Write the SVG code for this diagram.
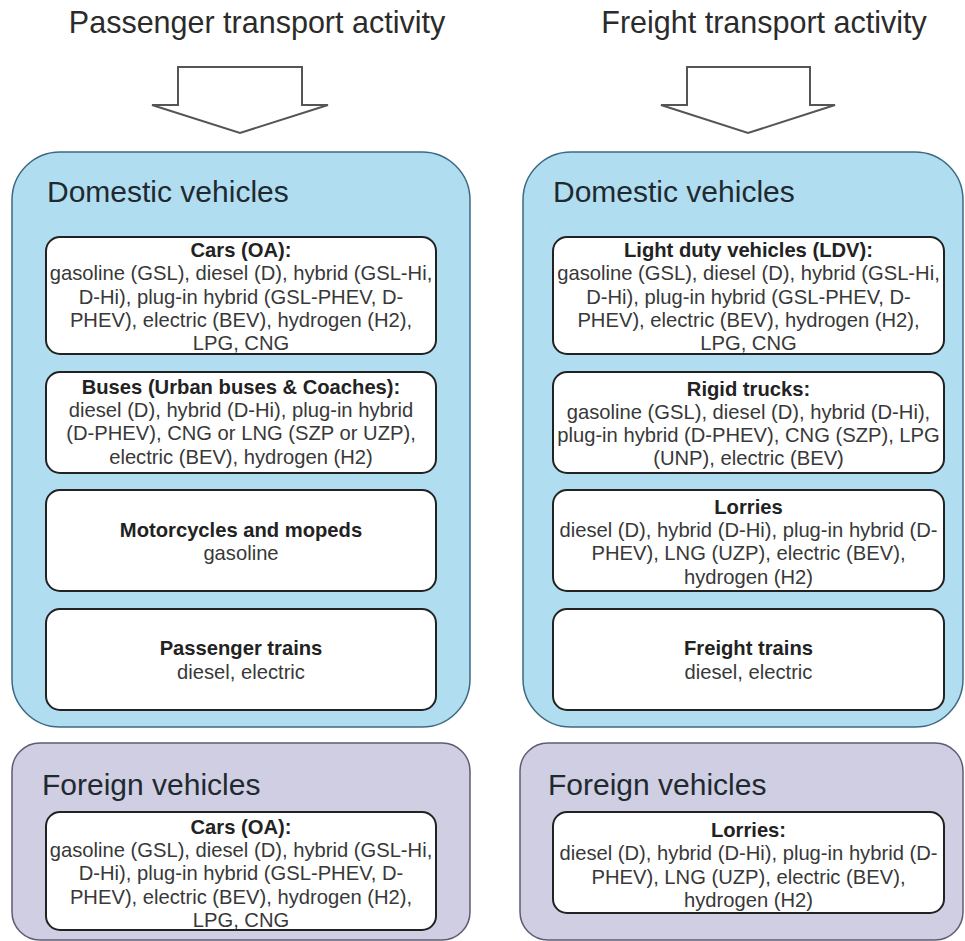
<svg xmlns="http://www.w3.org/2000/svg" width="965" height="941" viewBox="0 0 965 941">
<style>
.title{font-family:"Liberation Sans",Arial,sans-serif;font-size:30.5px;fill:#2b2b2b;text-anchor:middle}
.head{font-family:"Liberation Sans",Arial,sans-serif;font-size:30px;fill:#1f2a30}
.dom{fill:#b1ddf0;stroke:#3d6a82;stroke-width:1.5}
.for{fill:#d0cee2;stroke:#5e5b73;stroke-width:1.5}
.box{fill:#ffffff;stroke:#222;stroke-width:2}
.t{font-family:"Liberation Sans",Arial,sans-serif;font-size:20.2px;fill:#383838;text-anchor:middle}
.b{font-weight:bold;fill:#222}
.arrow{fill:#ffffff;stroke:#555;stroke-width:2;stroke-linejoin:miter}
</style>
<rect width="965" height="941" fill="#ffffff"/>
<text class="title" x="257" y="33">Passenger transport activity</text>
<text class="title" x="764" y="33">Freight transport activity</text>
<g id="connectors">
<path class="arrow" d="M178,67 H302 V105 H328 L240,133 L152,105 H178 Z"/>
<path class="arrow" d="M687,67 H810 V105 H835 L748,133 L661,105 H687 Z"/>
</g>
<g id="passenger-domestic">
<rect class="dom" x="12" y="152" width="458" height="575" rx="48"/>
<text class="head" x="47" y="202">Domestic vehicles</text>
</g>
<g id="cars">
<rect class="box" x="46" y="237" width="390" height="117" rx="14"/>
<text class="t"><tspan class="b" x="241" y="257">Cars (OA):</tspan><tspan x="241" y="280">gasoline (GSL), diesel (D), hybrid (GSL-Hi,</tspan><tspan x="241" y="304">D-Hi), plug-in hybrid (GSL-PHEV, D-</tspan><tspan x="241" y="327">PHEV), electric (BEV), hydrogen (H2),</tspan><tspan x="241" y="350">LPG, CNG</tspan></text>
</g>
<g id="buses">
<rect class="box" x="46" y="372" width="390" height="101" rx="14"/>
<text class="t"><tspan class="b" x="241" y="394">Buses (Urban buses &amp; Coaches):</tspan><tspan x="241" y="417">diesel (D), hybrid (D-Hi), plug-in hybrid</tspan><tspan x="241" y="440">(D-PHEV), CNG or LNG (SZP or UZP),</tspan><tspan x="241" y="464">electric (BEV), hydrogen (H2)</tspan></text>
</g>
<g id="motorcycles">
<rect class="box" x="46" y="490" width="390" height="101" rx="14"/>
<text class="t"><tspan class="b" x="241" y="537">Motorcycles and mopeds</tspan><tspan x="241" y="560">gasoline</tspan></text>
</g>
<g id="passenger-trains">
<rect class="box" x="46" y="609" width="390" height="101" rx="14"/>
<text class="t"><tspan class="b" x="241" y="655">Passenger trains</tspan><tspan x="241" y="679">diesel, electric</tspan></text>
</g>
<g id="freight-domestic">
<rect class="dom" x="523" y="152" width="440" height="575" rx="48"/>
<text class="head" x="553" y="202">Domestic vehicles</text>
</g>
<g id="ldv">
<rect class="box" x="553" y="237" width="391" height="117" rx="14"/>
<text class="t"><tspan class="b" x="748.5" y="257">Light duty vehicles (LDV):</tspan><tspan x="748.5" y="280">gasoline (GSL), diesel (D), hybrid (GSL-Hi,</tspan><tspan x="748.5" y="304">D-Hi), plug-in hybrid (GSL-PHEV, D-</tspan><tspan x="748.5" y="327">PHEV), electric (BEV), hydrogen (H2),</tspan><tspan x="748.5" y="350">LPG, CNG</tspan></text>
</g>
<g id="rigid-trucks">
<rect class="box" x="553" y="372" width="391" height="101" rx="14"/>
<text class="t"><tspan class="b" x="748.5" y="396">Rigid trucks:</tspan><tspan x="748.5" y="419">gasoline (GSL), diesel (D), hybrid (D-Hi),</tspan><tspan x="748.5" y="442">plug-in hybrid (D-PHEV), CNG (SZP), LPG</tspan><tspan x="748.5" y="465">(UNP), electric (BEV)</tspan></text>
</g>
<g id="lorries">
<rect class="box" x="553" y="490" width="391" height="101" rx="14"/>
<text class="t"><tspan class="b" x="748.5" y="514">Lorries</tspan><tspan x="748.5" y="537">diesel (D), hybrid (D-Hi), plug-in hybrid (D-</tspan><tspan x="748.5" y="560">PHEV), LNG (UZP), electric (BEV),</tspan><tspan x="748.5" y="584">hydrogen (H2)</tspan></text>
</g>
<g id="freight-trains">
<rect class="box" x="553" y="609" width="391" height="101" rx="14"/>
<text class="t"><tspan class="b" x="748.5" y="655">Freight trains</tspan><tspan x="748.5" y="679">diesel, electric</tspan></text>
</g>
<g id="passenger-foreign">
<rect class="for" x="12" y="743" width="458" height="197" rx="28"/>
<text class="head" x="42" y="795">Foreign vehicles</text>
</g>
<g id="foreign-cars">
<rect class="box" x="46" y="812" width="390" height="118" rx="14"/>
<text class="t"><tspan class="b" x="241" y="834">Cars (OA):</tspan><tspan x="241" y="857">gasoline (GSL), diesel (D), hybrid (GSL-Hi,</tspan><tspan x="241" y="880">D-Hi), plug-in hybrid (GSL-PHEV, D-</tspan><tspan x="241" y="904">PHEV), electric (BEV), hydrogen (H2),</tspan><tspan x="241" y="927">LPG, CNG</tspan></text>
</g>
<g id="freight-foreign">
<rect class="for" x="520" y="743" width="443" height="197" rx="28"/>
<text class="head" x="548" y="795">Foreign vehicles</text>
</g>
<g id="foreign-lorries">
<rect class="box" x="553" y="812" width="391" height="101" rx="14"/>
<text class="t"><tspan class="b" x="748.5" y="837">Lorries:</tspan><tspan x="748.5" y="860">diesel (D), hybrid (D-Hi), plug-in hybrid (D-</tspan><tspan x="748.5" y="884">PHEV), LNG (UZP), electric (BEV),</tspan><tspan x="748.5" y="907">hydrogen (H2)</tspan></text>
</g>
</svg>
